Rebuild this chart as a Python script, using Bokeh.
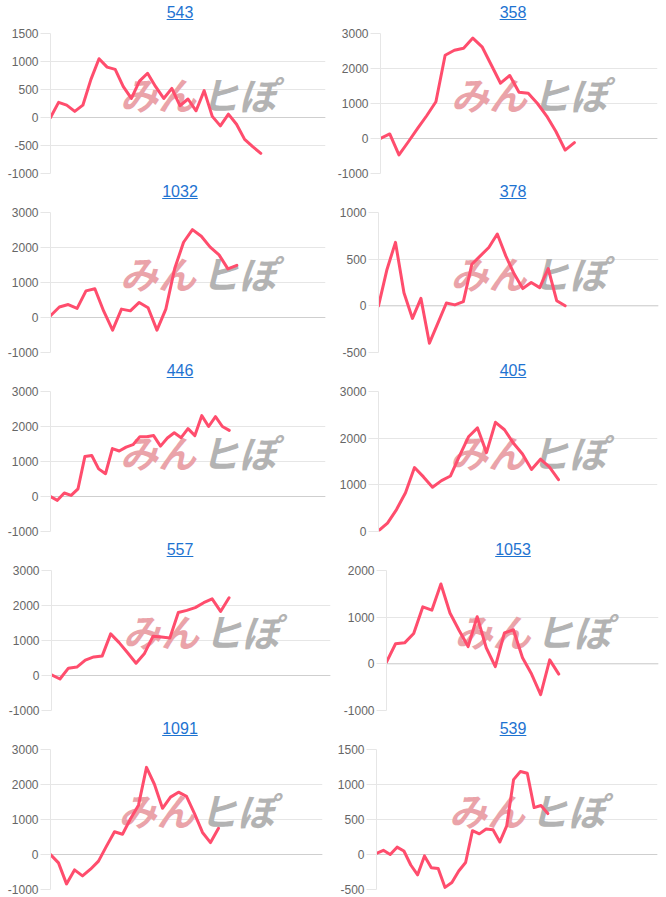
from bokeh.plotting import figure
from bokeh.models import Range1d, FixedTicker, Span, Div
from bokeh.layouts import row, column
from bokeh.core.properties import value
from bokeh.embed import file_html
from bokeh.resources import INLINE

# ---- data ----
titles = ["543", "358", "1032", "378", "446", "405", "557", "1053", "1091", "539"]

s543 = [0, 270, 220, 110, 220, 680, 1050, 900, 860, 550, 340, 650, 790, 550, 340, 520,
        210, 330, 120, 480, 20, -150, 60, -120, -390, -520, -640]
s358 = [0, 130, -470, -100, 280, 650, 1050, 2380, 2520, 2580, 2870, 2620, 2100, 1580,
        1800, 1320, 1290, 1000, 640, 200, -330, -120]
s1032 = [50, 300, 370, 260, 760, 820, 180, -360, 240, 190, 430, 280, -360, 240, 1400,
         2150, 2510, 2320, 2010, 1790, 1390, 1490]
s378 = [0, 390, 680, 140, -135, 80, -400, -185, 30, 10, 45, 445, 535, 625, 770, 535,
        340, 185, 250, 195, 400, 55, 0]
s446 = [0, -110, 100, 30, 220, 1140, 1170, 790, 650, 1370, 1300, 1410, 1480, 1710, 1710,
        1740, 1440, 1670, 1820, 1680, 1940, 1740, 2310, 2000, 2280, 2000, 1890]
s405 = [15, 180, 470, 830, 1370, 1170, 950, 1090, 1190, 1620, 2030, 2220, 1690, 2340,
        2180, 1890, 1660, 1330, 1550, 1380, 1110]
s557 = [20, -100, 210, 240, 440, 530, 560, 1190, 940, 650, 350, 630, 1120, 1100, 1070,
        1800, 1860, 1940, 2080, 2190, 1830, 2220]
s1053 = [35, 430, 450, 650, 1220, 1150, 1710, 1090, 720, 370, 1010, 345, -60, 660, 730,
         130, -220, -660, 85, -220]
s1091 = [0, -240, -840, -440, -610, -420, -190, 240, 650, 580, 1020, 1410, 2490, 2000,
         1320, 1640, 1780, 1660, 1170, 630, 340, 750]
s539 = [15, 60, 0, 105, 50, -150, -290, -20, -190, -200, -470, -400, -235, -115, 340,
        295, 365, 355, 180, 410, 1070, 1185, 1160, 670, 700, 585]

series = [s543, s358, s1032, s378, s446, s405, s557, s1053, s1091, s539]
label_counts = [35, 31, 32, 34, 41, 32, 34, 31, 35, 42]
y_mins = [-1000, -1000, -1000, -500, -1000, 0, -1000, -1000, -1000, -500]
y_maxs = [1500, 3000, 3000, 1000, 3000, 3000, 3000, 2000, 3000, 1500]
y_steps = [500, 1000, 1000, 500, 1000, 1000, 1000, 1000, 1000, 500]

# ---- layout / style ----
frame_left = [48, 380, 48, 378, 49, 378, 51, 386, 48, 375]
frame_right = [325, 657, 325, 658, 325, 657, 330, 658, 322, 657]
LINE = "#ff4d6d"
GRID = "#e6e6e6"
TICKC = "#666666"
TITLEC = "#1e73d1"
FONT = "Liberation Sans"
X0 = 4

cells = []
for i, (t, s) in enumerate(zip(titles, series)):
    is_left = (i % 2 == 0)
    last = (i >= 8)
    cell_x0 = X0 if is_left else 334
    cell_w = 334 - X0 if is_left else 325
    center = 180 if is_left else 513
    pad = 2 * (center - cell_x0) - cell_w
    bl = frame_left[i] - cell_x0
    br = cell_x0 + cell_w - frame_right[i]

    div = Div(
        text=(f'<div style="position:relative;top:-2px;width:{cell_w}px;box-sizing:border-box;'
              f'text-align:center;padding-left:{pad}px;'
              f'font-family:\'{FONT}\',Arial,sans-serif;font-size:16px;line-height:16px;">'
              f'<a href="#" style="color:{TITLEC};text-decoration:underline;">{t}</a></div>'),
        width=cell_w, height=14, margin=0,
    )

    bb = 7 if last else 13
    p = figure(width=cell_w, height=12 + 140 + bb, output_backend="svg",
               toolbar_location=None, x_axis_location=None,
               min_border_top=12, min_border_bottom=bb,
               min_border_left=bl, min_border_right=br,
               x_range=Range1d(0, label_counts[i] - 1),
               y_range=Range1d(y_mins[i], y_maxs[i]))
    p.outline_line_color = None
    p.background_fill_color = "white"
    p.border_fill_color = "white"
    p.xgrid.grid_line_color = None

    ticks = list(range(y_mins[i], y_maxs[i] + 1, y_steps[i]))
    p.yaxis.ticker = FixedTicker(ticks=ticks)
    p.yaxis.major_label_overrides = {v: str(v) for v in ticks}
    p.yaxis.axis_line_color = GRID
    p.yaxis.major_tick_line_color = GRID
    p.yaxis.major_tick_in = 0
    p.yaxis.major_tick_out = 10
    p.yaxis.minor_tick_line_color = None
    p.yaxis.major_label_standoff = 2
    p.yaxis.major_label_text_font = FONT
    p.yaxis.major_label_text_font_size = "12px"
    p.yaxis.major_label_text_color = TICKC
    p.ygrid.grid_line_color = GRID
    p.ygrid.grid_line_width = 1

    if y_mins[i] < 0:
        p.add_layout(Span(location=0, dimension="width", line_color="#cfcfcf",
                          line_width=1, level="underlay"))

    xm = (label_counts[i] - 1) / 2
    ym = (y_mins[i] + y_maxs[i]) / 2
    p.text(x=[xm], y=[ym], text=["みん"], text_font=value("Noto Sans CJK JP"),
           text_font_size=value("38px"), text_font_style="bold italic",
           text_color="#eaa3a9", text_align="right", text_baseline="middle",
           x_offset=8, y_offset=-10)
    p.text(x=[xm], y=[ym], text=["ヒぽ"], text_font=value("Noto Sans CJK JP"),
           text_font_size=value("38px"), text_font_style="bold italic",
           text_color="#b3b3b3", text_align="left", text_baseline="middle",
           x_offset=13, y_offset=-10)

    p.line(list(range(len(s))), s, line_color=LINE, line_width=3,
           line_join="round", line_cap="round")

    cells.append(column(div, p, spacing=0))

rows = [row(cells[k], cells[k + 1], spacing=0) for k in range(0, 10, 2)]
layout = column(*rows, spacing=0, margin=(7, 0, 0, X0))

open("out.html", "w").write(file_html(layout, INLINE))
